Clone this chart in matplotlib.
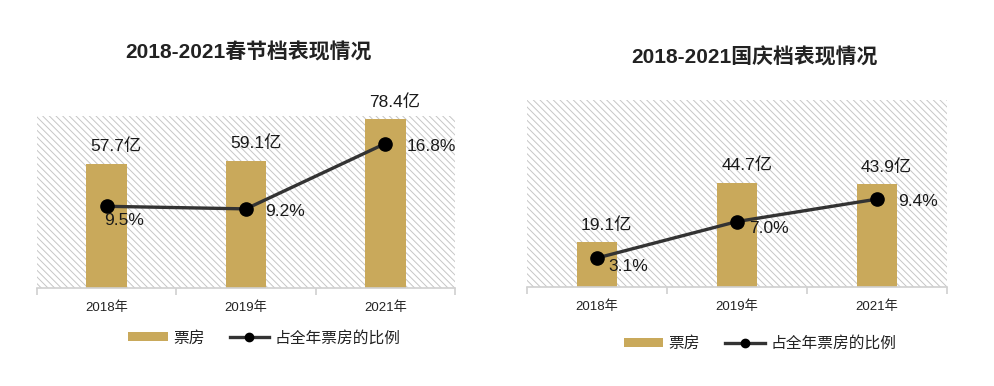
import matplotlib
matplotlib.use("Agg")
import matplotlib.pyplot as plt
from matplotlib.patches import Rectangle, Patch
from matplotlib.lines import Line2D

plt.rcParams['font.family'] = ['Liberation Sans', 'Noto Sans CJK SC', 'DejaVu Sans']
plt.rcParams['hatch.linewidth'] = 0.7

# Data
years = ['2018年', '2019年', '2021年']
spring_title = '2018-2021春节档表现情况'
spring_box = [57.7, 59.1, 78.4]
spring_share = [9.5, 9.2, 16.8]
national_title = '2018-2021国庆档表现情况'
national_box = [19.1, 44.7, 43.9]
national_share = [3.1, 7.0, 9.4]

BAR_COLOR = '#C9A95B'
LINE_COLOR = '#333333'

fig = plt.figure(figsize=(9.94, 3.86), dpi=100)


def draw_panel(rect, title, title_xy, box, share, pct_offsets, legend_xy):
  ax = fig.add_axes(rect)
  ax.set_xlim(-0.5, 2.5)
  ax.set_ylim(0, 80)
  # hatched plot area
  bg = Rectangle((0, 0), 1, 1, transform=ax.transAxes, facecolor='white',
                 edgecolor='#c6c6c6', hatch='\\\\\\\\\\', linewidth=0, zorder=0)
  ax.add_patch(bg)
  x = list(range(len(years)))
  ax.bar(x, box, width=0.29, color=BAR_COLOR, zorder=2)
  for xi, v in zip(x, box):
    ax.annotate(f'{v}亿', (xi, v), xytext=(7, 7), textcoords='offset points',
                ha='center', va='bottom', fontsize=12.5, color='#1a1a1a')

  for side in ['top', 'right', 'left']:
    ax.spines[side].set_visible(False)
  ax.spines['bottom'].set_color('#d0d0d0')
  ax.spines['bottom'].set_linewidth(1.2)
  ax.set_yticks([])
  ax.set_xticks(x)
  ax.set_xticklabels(years, fontsize=9.5, color='#222222')
  ax.tick_params(axis='x', length=0, pad=10)
  ax.set_xticks([-0.5, 0.5, 1.5, 2.5], minor=True)
  ax.tick_params(axis='x', which='minor', length=5, color='#d0d0d0', width=1.2)

  ax2 = ax.twinx()
  ax2.set_ylim(0, 20)
  ax2.set_yticks([])
  for side in ['top', 'right', 'left', 'bottom']:
    ax2.spines[side].set_visible(False)
  ax2.plot(x, share, color=LINE_COLOR, linewidth=2.4, marker='o',
           markersize=9.5, markerfacecolor='black', markeredgecolor='black', zorder=3)
  for xi, v, off in zip(x, share, pct_offsets):
    ax2.annotate(f'{v}%', (xi, v), xytext=off, textcoords='offset points',
                 ha='left', va='center', fontsize=12.5, color='#1a1a1a')

  fig.text(title_xy[0], title_xy[1], title, ha='center', va='center',
           fontsize=15, fontweight='bold', color='#222222')

  handles = [Patch(facecolor=BAR_COLOR, edgecolor='none'),
             Line2D([], [], color=LINE_COLOR, linewidth=2.4, marker='o',
                    markersize=6, markerfacecolor='black', markeredgecolor='black')]
  leg = ax.legend(handles, ['票房', '占全年票房的比例'], loc='center',
                  bbox_to_anchor=legend_xy, ncol=2, frameon=False,
                  fontsize=11.3, handlelength=2.5, handleheight=0.5,
                  columnspacing=1.6, handletextpad=0.35)
  for t in leg.get_texts():
    t.set_color('#222222')
  return ax


draw_panel([37 / 994, 98 / 386, 418 / 994, 172 / 386], spring_title,
           (248 / 994, 1 - 52 / 386), spring_box, spring_share,
           [(-2, -10), (14, -2), (15, -2)], (0.544, -0.29))
draw_panel([527 / 994, 99 / 386, 420 / 994, 187 / 386], national_title,
           (754 / 994, 1 - 57 / 386), national_box, national_share,
           [(8, -6), (9, -5), (15, -2)], (0.555, -0.30))

fig.savefig('out.png', dpi=100)
